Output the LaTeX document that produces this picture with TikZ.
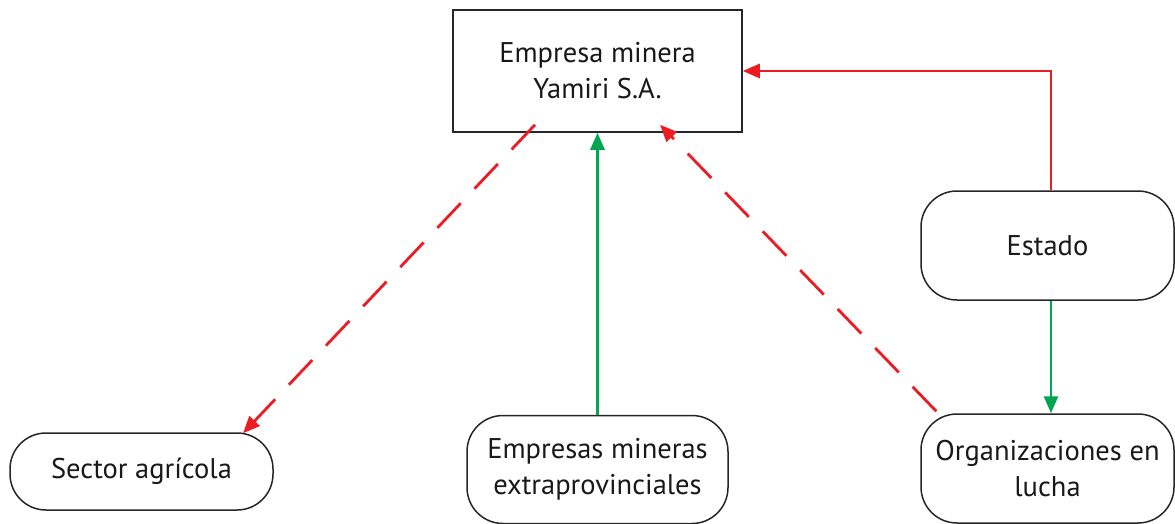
\documentclass[tikz,border=0pt]{standalone}
\usepackage{fontspec}
\setmainfont{PT Sans}
\usetikzlibrary{arrows.meta}
\definecolor{rojo}{RGB}{237,28,36}
\definecolor{verde}{RGB}{0,166,81}
\tikzset{
  caja/.style={draw=black!85, line width=1.5pt, align=center, inner sep=0pt,
    text=black!90, font=\fontsize{28.5}{36}\selectfont},
  redonda/.style={caja, rounded corners=36pt},
  influye/.style={draw=rojo, line width=2.8pt, -{Triangle[length=17pt,width=14pt]}},
  conflicto/.style={influye, dash pattern=on 34pt off 20pt},
  apoya/.style={draw=verde, line width=2.8pt, -{Triangle[length=17pt,width=14pt]}}
}
\begin{document}
\begin{tikzpicture}[x=1pt,y=-1pt]
  \useasboundingbox (0,0) rectangle (1175,523);
  \node[caja, minimum width=289, minimum height=122] (empresa) at (597.5,71)
    {Empresa minera\\Yamiri S.A.};
  \node[redonda, minimum width=253, minimum height=109] (estado) at (1047.5,245.5) {Estado};
  \node[redonda, minimum width=253, minimum height=109] (org) at (1047.5,468.5)
    {Organizaciones en\\lucha};
  \node[redonda, minimum width=261, minimum height=108] (extra) at (597.5,469.5)
    {Empresas mineras\\extraprovinciales};
  \node[redonda, minimum width=263, minimum height=77] (sector) at (141.5,471.5)
    {Sector agrícola};
  % flechas
  \draw[influye] ([xshift=3.5]estado.north) |- (empresa.east);
  \draw[apoya] ([xshift=3.5]estado.south) -- ([xshift=3.5]org.north);
  \draw[apoya] (extra.north) -- (empresa.south);
  \draw[conflicto] ([xshift=16,yshift=2]org.north west) -- ([xshift=62.5,yshift=8]empresa.south);
  \draw[conflicto] ([xshift=-62.5,yshift=8]empresa.south) -- ([xshift=101.5,yshift=-1]sector.north);
\end{tikzpicture}
\end{document}
